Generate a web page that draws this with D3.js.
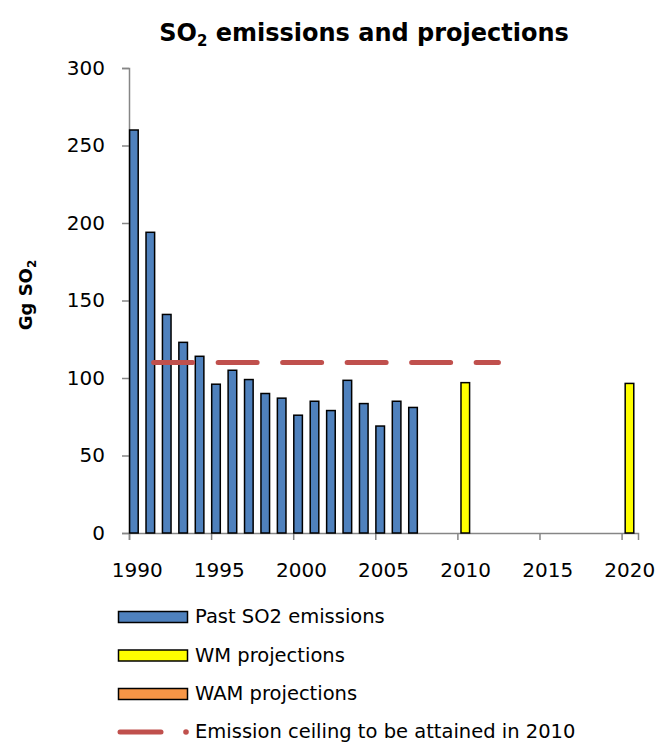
<!DOCTYPE html>
<html>
<head>
<meta charset="utf-8">
<script src="https://cdnjs.cloudflare.com/ajax/libs/d3/7.8.5/d3.min.js"></script>
<style>
  body { margin: 0; background: #fff; }
  text { font-family: "DejaVu Sans", Verdana, sans-serif; }
</style>
</head>
<body>
<div id="chart"></div>
<script>
// data
var pastYears = [1990, 1991, 1992, 1993, 1994, 1995, 1996, 1997, 1998, 1999,
                 2000, 2001, 2002, 2003, 2004, 2005, 2006, 2007];
var pastValues = [260, 194, 141, 123, 114, 96, 105, 99, 90, 87,
                  76, 85, 79, 98.5, 83.5, 69, 85, 81];
var wmYears = [2010, 2020];
var wmValues = [97, 96.5];
var ceilingYears = [1991, 2012];
var ceilingValue = 110;
var xTicks = [1990, 1995, 2000, 2005, 2010, 2015, 2020];
var yTicks = [0, 50, 100, 150, 200, 250, 300];
var legendLabels = ['Past SO2 emissions', 'WM projections', 'WAM projections',
                    'Emission ceiling to be attained in 2010'];

var width = 657, height = 742;
var svg = d3.select('#chart').append('svg')
  .attr('width', width).attr('height', height);

var x = d3.scaleLinear().domain([1990, 2021]).range([129, 638]);
var y = d3.scaleLinear().domain([0, 300]).range([533, 68]);
var step = x(1991) - x(1990);
var barW = 8.6;

// y axis
var yAxis = svg.append('g')
  .attr('transform', 'translate(129,0)')
  .call(d3.axisLeft(y).tickValues(yTicks).tickSize(7).tickPadding(17));
yAxis.select('.domain').attr('stroke', '#868686').attr('stroke-width', 1.5);
yAxis.selectAll('.tick line').attr('stroke', '#868686').attr('stroke-width', 1.5);
yAxis.selectAll('.tick text').attr('font-size', 20).attr('fill', '#000');

// x axis, labels sit in the middle of the year slot
var xAxis = svg.append('g')
  .attr('transform', 'translate(0,533)')
  .call(d3.axisBottom(x).tickValues(xTicks).tickFormat(d3.format('d')).tickSize(7).tickPadding(23));
xAxis.select('.domain').attr('stroke', '#868686').attr('stroke-width', 1.5);
xAxis.selectAll('.tick line').attr('stroke', '#868686').attr('stroke-width', 1.5);
xAxis.selectAll('.tick text').attr('font-size', 20).attr('fill', '#000')
  .attr('dx', step / 2 - 0.5);

// past bars
svg.append('g').selectAll('rect')
  .data(pastYears)
  .enter().append('rect')
  .attr('x', function(d){ return x(d) + 0.6; })
  .attr('y', function(d, i){ return y(pastValues[i]); })
  .attr('width', barW)
  .attr('height', function(d, i){ return y(0) - y(pastValues[i]); })
  .attr('fill', '#4F81BD')
  .attr('stroke', '#000')
  .attr('stroke-width', 1.5);

// WM bars
svg.append('g').selectAll('rect')
  .data(wmYears)
  .enter().append('rect')
  .attr('x', function(d){ return x(d) + 3.6; })
  .attr('y', function(d, i){ return y(wmValues[i]); })
  .attr('width', barW)
  .attr('height', function(d, i){ return y(0) - y(wmValues[i]); })
  .attr('fill', '#FFFF00')
  .attr('stroke', '#000')
  .attr('stroke-width', 1.5);

// ceiling line
svg.append('line')
  .attr('x1', x(ceilingYears[0]) + step / 2)
  .attr('x2', x(ceilingYears[1]) + step / 2)
  .attr('y1', y(ceilingValue))
  .attr('y2', y(ceilingValue))
  .attr('stroke', '#C0504D')
  .attr('stroke-width', 5)
  .attr('stroke-linecap', 'round')
  .attr('stroke-dasharray', '39,25.5');

// title
var title = svg.append('text')
  .attr('x', 364).attr('y', 41)
  .attr('text-anchor', 'middle')
  .attr('font-size', 24).attr('font-weight', 'bold');
title.append('tspan').text('SO');
title.append('tspan').attr('font-size', 15).attr('dy', 5).text('2');
title.append('tspan').attr('dy', -5).text(' emissions and projections');

// y label
var ylab = svg.append('text')
  .attr('transform', 'translate(32,295) rotate(-90)')
  .attr('text-anchor', 'middle')
  .attr('font-size', 18).attr('font-weight', 'bold');
ylab.append('tspan').text('Gg SO');
ylab.append('tspan').attr('font-size', 12).attr('dy', 4).text('2');

// legend
var legendColors = ['#4F81BD', '#FFFF00', '#F79646'];
var legendY = [617, 655.5, 694, 732];
var lg = svg.append('g');
legendColors.forEach(function(c, i){
  lg.append('rect')
    .attr('x', 118.5).attr('y', legendY[i] - 5.5)
    .attr('width', 69).attr('height', 11)
    .attr('fill', c).attr('stroke', '#000').attr('stroke-width', 1.5);
});
lg.append('line')
  .attr('x1', 120).attr('x2', 161)
  .attr('y1', legendY[3]).attr('y2', legendY[3])
  .attr('stroke', '#C0504D').attr('stroke-width', 5).attr('stroke-linecap', 'round');
lg.append('circle')
  .attr('cx', 186).attr('cy', legendY[3]).attr('r', 2.8)
  .attr('fill', '#C0504D');
legendLabels.forEach(function(t, i){
  lg.append('text')
    .attr('x', 195).attr('y', legendY[i] + 6)
    .attr('font-size', 19.5)
    .text(t);
});
</script>
</body>
</html>
